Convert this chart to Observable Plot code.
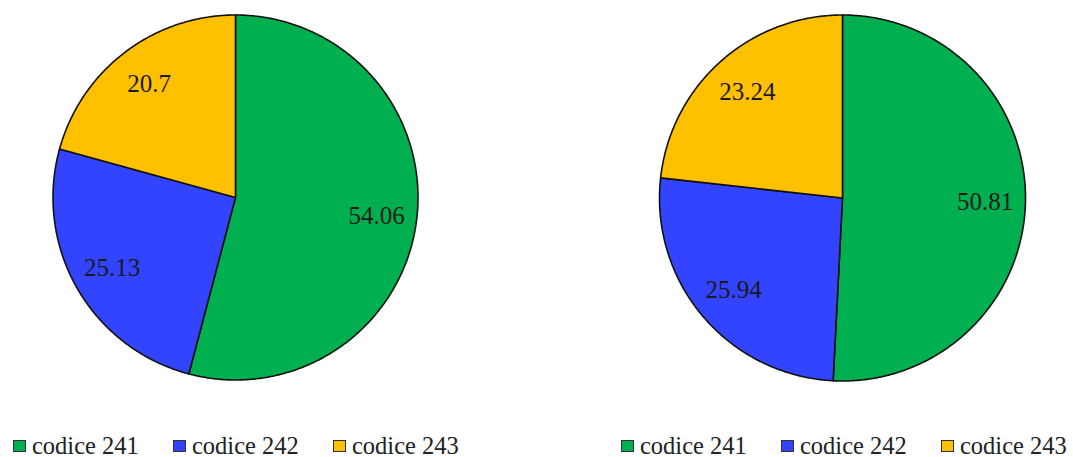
<html><head><meta charset="utf-8">
<script src="https://cdn.jsdelivr.net/npm/d3@7"></script>
<script src="https://cdn.jsdelivr.net/npm/@observablehq/plot@0.6"></script>
<style>
body{margin:0;background:#fff;width:1073px;height:457px;overflow:hidden;font-family:Liberation Serif;}
#wrap{position:relative;width:1073px;height:457px;}
.chart{position:absolute;top:0;}
.legend{position:absolute;top:431px;height:30px;display:flex;font-size:24.5px;color:#222;line-height:30px;font-family:Liberation Serif;}
.item{width:160px;display:flex;align-items:center;white-space:nowrap;}
.sw{display:inline-block;width:11px;height:10px;border:1.5px solid #333;margin-right:6px;flex:none;}
</style></head><body><div id="wrap"></div>
<script>
const categories = ["codice 241", "codice 242", "codice 243"];
const colors = ["#00b050", "#3344ff", "#ffc000"];
const valuesLeft = [54.06, 25.13, 20.7];
const valuesRight = [50.81, 25.94, 23.24];
const labelsLeft = ["54.06", "25.13", "20.7"];
const labelsRight = ["50.81", "25.94", "23.24"];

const serif = "Liberation Serif";

function sliceData(values) {
  const total = d3.sum(values);
  const pts = [], labs = [];
  let acc = 0;
  values.forEach((v, i) => {
    const a0 = acc / total * 2 * Math.PI;
    acc += v;
    const a1 = acc / total * 2 * Math.PI;
    pts.push({cat: categories[i], x: 0, y: 0});
    const n = Math.max(2, Math.ceil((a1 - a0) / (Math.PI / 360)));
    for (let k = 0; k <= n; k++) {
      const a = a0 + (a1 - a0) * k / n;
      pts.push({cat: categories[i], x: Math.sin(a), y: Math.cos(a)});
    }
    const am = (a0 + a1) / 2;
    labs.push({i, x: 0.78 * Math.sin(am), y: 0.78 * Math.cos(am)});
  });
  return {pts, labs};
}

function pie(values, labels, opts) {
  const {pts, labs} = sliceData(values);
  return Plot.plot({
    width: opts.width, height: 400,
    marginLeft: opts.ml, marginRight: opts.mr, marginTop: opts.mt, marginBottom: opts.mb,
    style: {fontFamily: serif, background: "transparent"},
    x: {domain: [-1, 1], axis: null},
    y: {domain: [-1, 1], axis: null},
    color: {domain: categories, range: colors},
    marks: [
      Plot.line(pts, {x: "x", y: "y", z: "cat", fill: "cat", stroke: "#111", strokeWidth: 1.6, curve: "linear-closed", strokeLinejoin: "round"}),
      Plot.text(labs, {x: "x", y: "y", text: d => labels[d.i], fontSize: 25, fill: "#1a1a1a", fontFamily: serif})
    ]
  });
}

function legend(left) {
  const div = document.createElement("div");
  div.className = "legend";
  div.style.left = left + "px";
  div.style.fontFamily = serif;
  categories.forEach((c, i) => {
    const it = document.createElement("div");
    it.className = "item";
    const sw = document.createElement("span");
    sw.className = "sw";
    sw.style.background = colors[i];
    const t = document.createElement("span");
    t.textContent = c;
    it.appendChild(sw); it.appendChild(t);
    div.appendChild(it);
  });
  return div;
}

const wrap = document.getElementById("wrap");
const c1 = pie(valuesLeft, labelsLeft, {width: 536, ml: 52.5, mr: 118.5, mt: 14.5, mb: 20.5});
c1.classList.add("chart"); c1.style.left = "0px";
const c2 = pie(valuesRight, labelsRight, {width: 537, ml: 123, mr: 48, mt: 14.5, mb: 19.5});
c2.classList.add("chart"); c2.style.left = "536px";
wrap.appendChild(c1); wrap.appendChild(c2);
wrap.appendChild(legend(13));
wrap.appendChild(legend(621));
</script></body></html>
